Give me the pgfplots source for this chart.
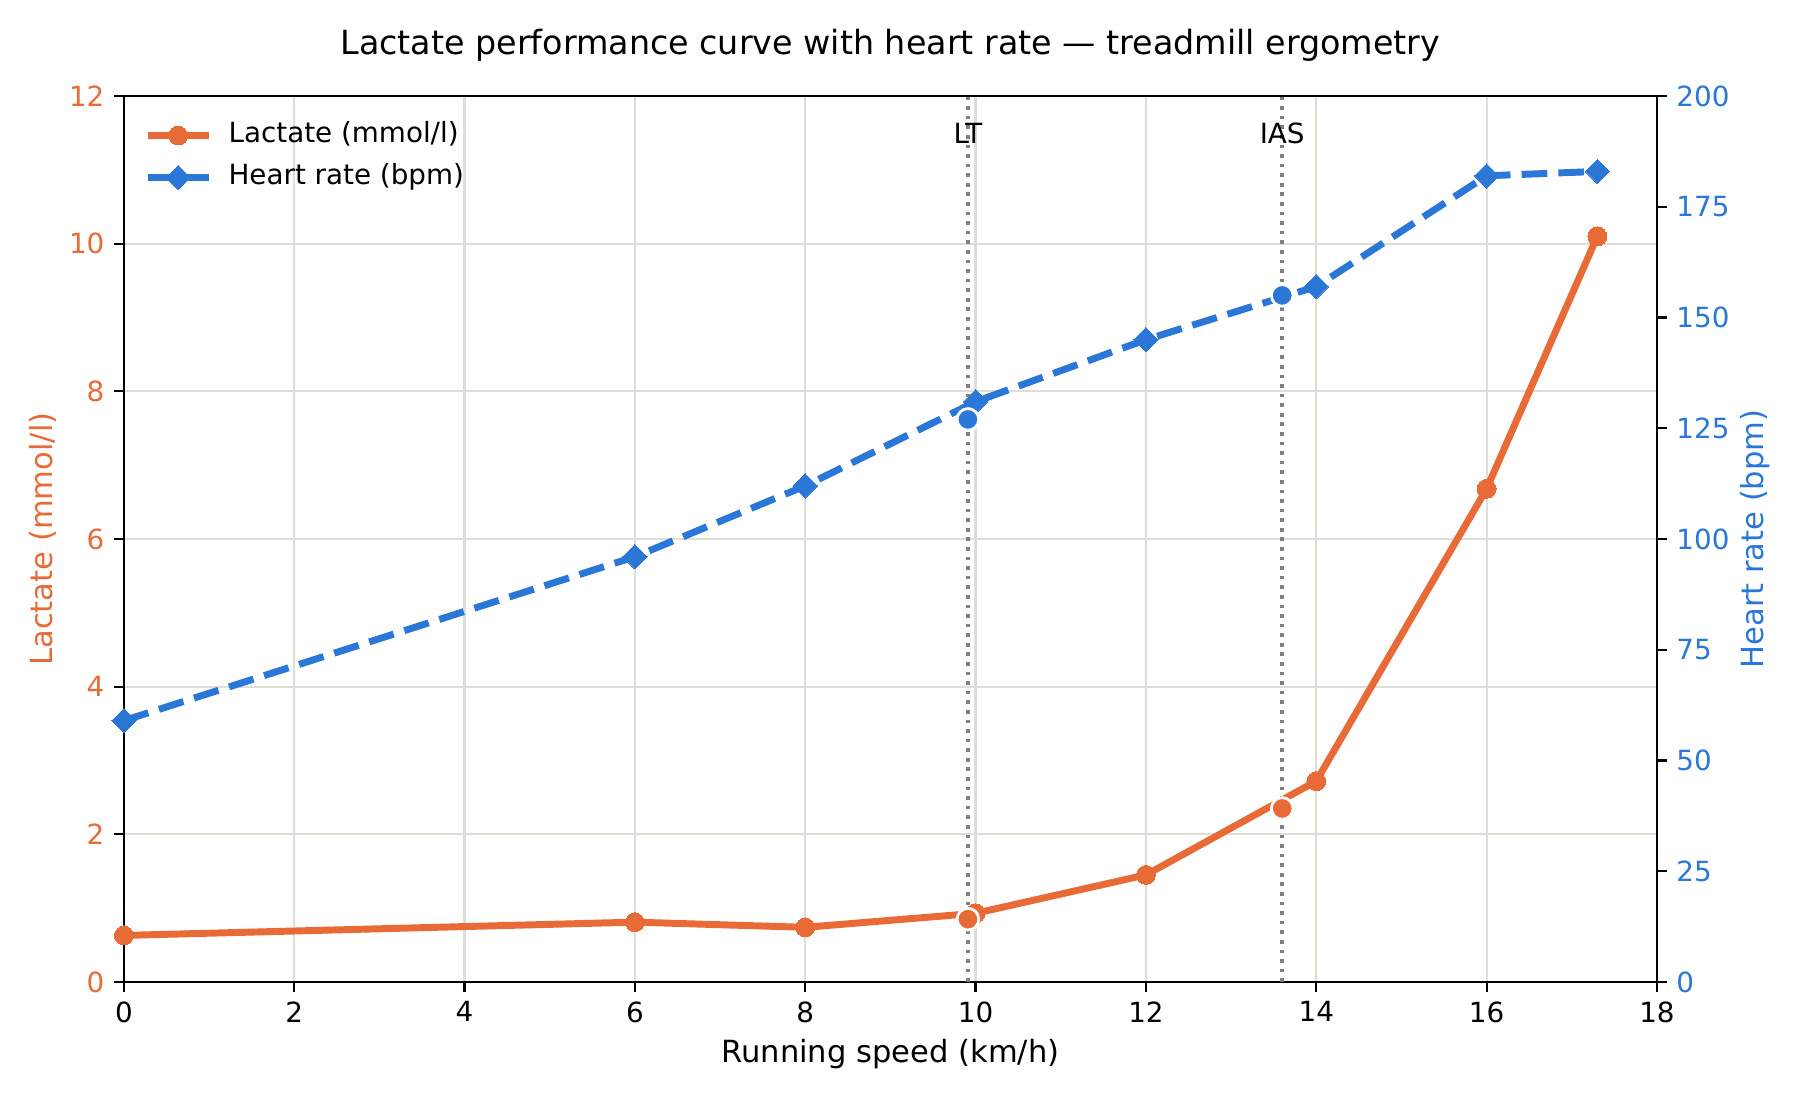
\documentclass[border=0pt]{standalone}
\usepackage{fontspec}
\setmainfont{DejaVu Sans}
\usepackage{pgfplots}
\pgfplotsset{compat=1.18}
\definecolor{lac}{RGB}{232,106,54}
\definecolor{hr}{RGB}{42,119,216}
\definecolor{gridc}{RGB}{222,222,214}
\definecolor{vline}{RGB}{128,128,128}

\pgfplotstableread{
x y
0 0.63
6 0.81
8 0.74
10 0.93
12 1.45
14 2.72
16 6.68
17.3 10.1
}\lactab
\pgfplotstableread{
x y
0 59
6 96
8 112
10 131
12 145
14 157
16 182
17.3 183
}\hrtab

\begin{document}
\begin{tikzpicture}
\path[use as bounding box] (-44.6pt,-42.5pt) rectangle (603.4pt,353.5pt);
\pgfplotsset{
  common/.style={
    at={(0,0)}, anchor=south west, scale only axis,
    width=551.9pt, height=318.9pt,
    xmin=0, xmax=18,
    tick align=outside, major tick length=3.5pt,
    every tick/.style={black, line width=0.8pt},
    axis line style={black, line width=0.8pt},
    tick label style={font=\fontsize{10}{12}\selectfont},
    label style={font=\fontsize{11}{13}\selectfont},
    /pgf/number format/assume math mode=true,
    clip mode=individual,
  }
}
\begin{axis}[common,
  ymin=0, ymax=12,
  xtick={0,2,...,18}, ytick={0,2,...,12},
  xtick pos=bottom, ytick pos=left,
  grid=major, major grid style={gridc, line width=0.8pt},
  yticklabel style={text=lac},
  xlabel={Running speed (km/h)},
  ylabel={Lactate (mmol/l)},
  xlabel style={at={(axis description cs:0.5,-0.0812)}, anchor=center},
  ylabel style={at={(axis description cs:-0.0529,0.5)}, anchor=center, rotate=0, text=lac},
  title={Lactate performance curve with heart rate — treadmill ergometry},
  title style={at={(axis description cs:0.5,1.038)}, anchor=center, font=\fontsize{12}{14}\selectfont},
  legend style={at={(axis description cs:0,1)}, anchor=north west, draw=none, fill=none,
    xshift=4.1pt, yshift=-4.45pt, font=\fontsize{10}{12}\selectfont,
    row sep=0pt, column sep=5.9pt,
    nodes={inner xsep=0pt, inner ysep=2.65pt, text height=7.5pt, text depth=2.3pt}},
  legend cell align=left,
  legend image code/.code={\draw[mark repeat=2, mark phase=2, #1] plot coordinates {(0pt,0pt) (11pt,0pt) (22pt,0pt)};},
]
\addplot[vline, line width=1.3pt, dash pattern=on 1.3pt off 2.15pt, forget plot] coordinates {(9.91,0) (9.91,12)};
\addplot[vline, line width=1.3pt, dash pattern=on 1.3pt off 2.15pt, forget plot] coordinates {(13.6,0) (13.6,12)};
\addplot[lac, line width=2.5pt, mark=*, mark size=3.4pt, mark options={solid, fill=lac, draw=lac, line width=0pt}] table[x=x,y=y] {\lactab};
\addlegendentry{Lactate (mmol/l)}
\addlegendimage{hr, line width=2.5pt, mark=square*, mark size=3.1pt, mark options={solid, rotate=45, fill=hr, draw=hr, line width=0pt}}
\addlegendentry{Heart rate (bpm)}
\addplot[only marks, mark=*, mark size=3.9pt, mark options={fill=lac, draw=white, line width=1pt}, forget plot] coordinates {(9.91,0.85) (13.6,2.35)};
\node[font=\fontsize{10}{12}\selectfont, text=black] at (axis cs:9.91,11.5) {LT};
\node[font=\fontsize{10}{12}\selectfont, text=black] at (axis cs:13.6,11.5) {IAS};
\end{axis}
\begin{axis}[common,
  ymin=0, ymax=200,
  ytick={0,25,...,200},
  axis x line=none, axis y line*=right,
  yticklabel style={text=hr},
  ylabel={Heart rate (bpm)},
  ylabel style={at={(axis description cs:1.064,0.5)}, anchor=center, rotate=0, text=hr},
]
\addplot[hr, line width=2.5pt, dash pattern=on 9.25pt off 4pt, mark=square*, mark size=3.1pt, mark options={solid, rotate=45, fill=hr, draw=hr, line width=0pt}] table[x=x,y=y] {\hrtab};
\addplot[only marks, mark=*, mark size=3.9pt, mark options={fill=hr, draw=white, line width=1pt}] coordinates {(9.91,127) (13.6,155)};
\end{axis}
\end{tikzpicture}
\end{document}
